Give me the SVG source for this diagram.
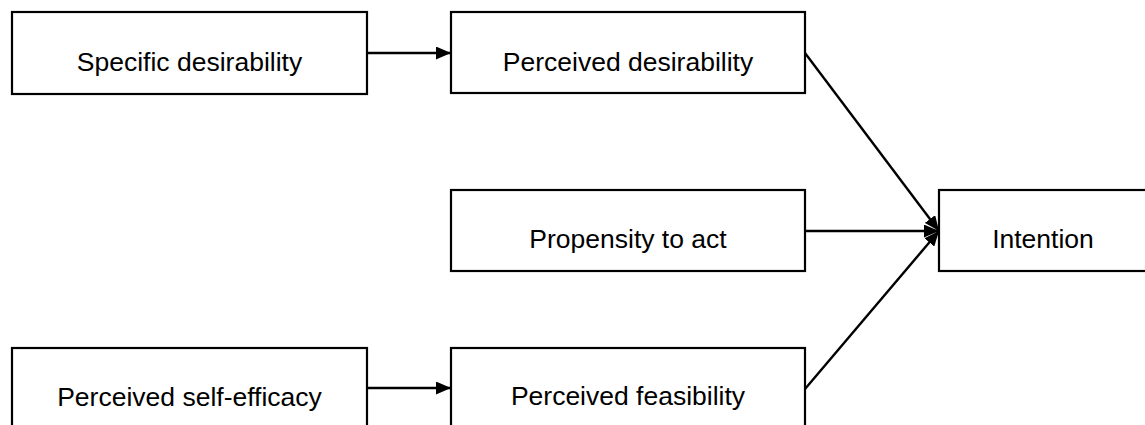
<svg xmlns="http://www.w3.org/2000/svg" width="1145" height="425" viewBox="0 0 1145 425">
  <style>
    .box { fill: #ffffff; stroke: #000000; stroke-width: 2.2; }
    .lbl { font-family: "Liberation Sans", Arial, sans-serif; font-size: 26.5px; fill: #000000; text-anchor: middle; }
    .conn { stroke: #000000; stroke-width: 2.4; fill: none; marker-end: url(#arrow); }
  </style>
  <defs>
    <marker id="arrow" markerUnits="userSpaceOnUse" markerWidth="16" markerHeight="13" refX="15" refY="6.5" orient="auto">
      <path d="M0,0 L15,6.5 L0,13 Z" fill="#000000"/>
    </marker>
  </defs>
  <rect width="1145" height="425" fill="#ffffff"/>
  <g id="node-specific-desirability">
    <rect class="box" x="12" y="12" width="355" height="82"/>
    <text class="lbl" x="189.5" y="71">Specific desirability</text>
  </g>
  <g id="node-perceived-desirability">
    <rect class="box" x="451" y="12" width="354" height="81"/>
    <text class="lbl" x="628" y="71">Perceived desirability</text>
  </g>
  <g id="node-propensity">
    <rect class="box" x="451" y="190" width="354" height="81"/>
    <text class="lbl" x="628" y="248">Propensity to act</text>
  </g>
  <g id="node-intention">
    <rect class="box" x="939" y="190" width="210" height="81"/>
    <text class="lbl" x="1043" y="248">Intention</text>
  </g>
  <g id="node-self-efficacy">
    <rect class="box" x="12" y="348" width="355" height="100"/>
    <text class="lbl" x="189.5" y="406">Perceived self-efficacy</text>
  </g>
  <g id="node-perceived-feasibility">
    <rect class="box" x="451" y="348" width="354" height="100"/>
    <text class="lbl" x="628" y="405">Perceived feasibility</text>
  </g>
  <g id="connectors">
    <line class="conn" x1="367" y1="53" x2="451" y2="53"/>
    <line class="conn" x1="367" y1="388" x2="451" y2="388"/>
    <line class="conn" x1="805" y1="53" x2="939" y2="231"/>
    <line class="conn" x1="805" y1="231" x2="939" y2="231"/>
    <line class="conn" x1="805" y1="389" x2="939" y2="231"/>
  </g>
</svg>
